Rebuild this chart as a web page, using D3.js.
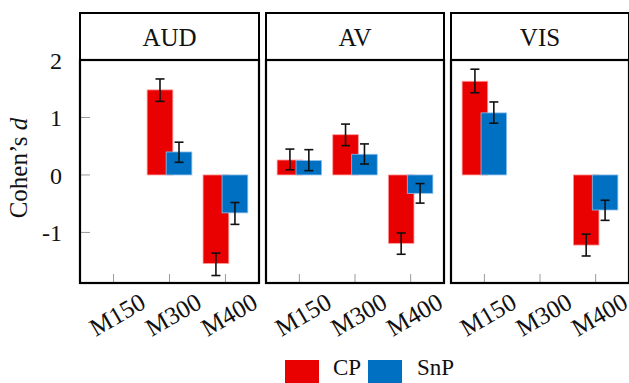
<!DOCTYPE html>
<html>
<head>
<meta charset="utf-8">
<script src="https://cdn.jsdelivr.net/npm/d3@7"></script>
<style>
  body { margin: 0; background: #fff; }
  svg { display: block; }
</style>
</head>
<body>
<svg id="chart" width="629" height="383"></svg>
<script>
// Effect sizes (Cohen's d) per modality panel and time window, with CI bounds
const facets = ["AUD", "AV", "VIS"];
const windows = ["M150", "M300", "M400"];
const seriesNames = ["CP", "SnP"];
const seriesColors = ["#e90000", "#0070c2"];
const yTicks = [-1, 0, 1, 2];

const cpMean  = [[null, 1.48, -1.54], [0.26, 0.70, -1.19], [1.63, null, -1.22]];
const cpLow   = [[null, 1.28, -1.75], [0.09, 0.51, -1.38], [1.43, null, -1.41]];
const cpHigh  = [[null, 1.67, -1.36], [0.45, 0.885, -1.01], [1.84, null, -1.03]];
const snpMean = [[null, 0.40, -0.66], [0.25, 0.36, -0.32], [1.08, null, -0.61]];
const snpLow  = [[null, 0.22, -0.86], [0.075, 0.19, -0.49], [0.90, null, -0.79]];
const snpHigh = [[null, 0.57, -0.48], [0.44, 0.54, -0.15], [1.27, null, -0.44]];

const svg = d3.select("#chart");
const FONT = "Times New Roman, serif";

const panelX = [[80, 259], [266, 444], [451, 629]];
const stripTop = 13, plotTop = 60, plotBottom = 283;

const y = d3.scaleLinear().domain([-1.88, 2.0]).range([plotBottom, plotTop]);

const means = [cpMean, snpMean], lows = [cpLow, snpLow], highs = [cpHigh, snpHigh];
const dodge = 0.17, barW = 0.46, capW = 9;

facets.forEach((facet, fi) => {
  const [x0, x1] = panelX[fi];
  const x = d3.scalePoint().domain(windows).range([x0, x1]).padding(0.6);
  const step = x.step();
  const g = svg.append("g");

  // facet strip
  g.append("rect").attr("x", x0).attr("y", stripTop).attr("width", x1 - x0).attr("height", plotTop - stripTop)
    .attr("fill", "#fff").attr("stroke", "#000").attr("stroke-width", 2);
  g.append("text").attr("x", (x0 + x1) / 2).attr("y", 45.5).attr("text-anchor", "middle")
    .attr("font-family", FONT).attr("font-size", 25).attr("fill", "#111").text(facet);

  // tick marks inside the panel
  g.selectAll(".xt").data(windows).join("line")
    .attr("x1", d => x(d)).attr("x2", d => x(d)).attr("y1", plotBottom).attr("y2", plotBottom - 9)
    .attr("stroke", "#9a9a9a").attr("stroke-width", 1);
  if (fi === 0) {
    g.selectAll(".yt").data(yTicks).join("line")
      .attr("x1", x0).attr("x2", x0 + 10).attr("y1", d => y(d)).attr("y2", d => y(d))
      .attr("stroke", "#9a9a9a").attr("stroke-width", 1);
    g.selectAll(".yl").data(yTicks).join("text")
      .attr("x", 62).attr("y", d => y(d) + 9).attr("text-anchor", "end")
      .attr("font-family", FONT).attr("font-size", 24).attr("fill", "#111")
      .text(d => d);
  }

  // bars: CP first, SnP drawn over it
  seriesNames.forEach((s, si) => {
    const off = (si === 0 ? -dodge : dodge) * step;
    const rows = windows.map((w, wi) => ({ w, v: means[si][fi][wi], lo: lows[si][fi][wi], hi: highs[si][fi][wi] }))
      .filter(d => d.v !== null);
    g.selectAll(".bar" + si).data(rows).join("rect")
      .attr("x", d => x(d.w) + off - barW * step / 2)
      .attr("width", barW * step)
      .attr("y", d => y(Math.max(0, d.v)))
      .attr("height", d => Math.abs(y(d.v) - y(0)))
      .attr("fill", seriesColors[si])
      .attr("stroke", si === 0 ? "#ff9a9a" : "#8fc0ea").attr("stroke-width", 0.8);
  });

  // error bars
  seriesNames.forEach((s, si) => {
    const off = (si === 0 ? -dodge : dodge) * step;
    const rows = windows.map((w, wi) => ({ w, v: means[si][fi][wi], lo: lows[si][fi][wi], hi: highs[si][fi][wi] }))
      .filter(d => d.v !== null);
    const eg = g.selectAll(".err" + si).data(rows).join("g").attr("stroke", "#111").attr("stroke-width", 1.6);
    eg.append("line").attr("x1", d => x(d.w) + off).attr("x2", d => x(d.w) + off)
      .attr("y1", d => y(d.lo)).attr("y2", d => y(d.hi));
    eg.append("line").attr("x1", d => x(d.w) + off - capW / 2).attr("x2", d => x(d.w) + off + capW / 2)
      .attr("y1", d => y(d.lo)).attr("y2", d => y(d.lo));
    eg.append("line").attr("x1", d => x(d.w) + off - capW / 2).attr("x2", d => x(d.w) + off + capW / 2)
      .attr("y1", d => y(d.hi)).attr("y2", d => y(d.hi));
  });

  // panel border
  g.append("rect").attr("x", x0).attr("y", plotTop).attr("width", x1 - x0).attr("height", plotBottom - plotTop)
    .attr("fill", "none").attr("stroke", "#000").attr("stroke-width", 2.2);

  // rotated window labels
  g.selectAll(".xl").data(windows).join("text")
    .attr("text-anchor", "middle").attr("font-family", FONT).attr("font-size", 25).attr("fill", "#111")
    .attr("transform", d => `translate(${x(d) + 8},${322}) rotate(-30)`)
    .text(d => d);
});

// y-axis title
svg.append("text").attr("transform", "translate(27,168) rotate(-90)")
  .attr("text-anchor", "middle").attr("font-family", FONT).attr("font-size", 25).attr("fill", "#111")
  .html("Cohen’s <tspan font-style='italic'>d</tspan>");

// legend
const legX = [285, 368];
const legTextX = [333, 417];
seriesNames.forEach((s, i) => {
  svg.append("rect").attr("x", legX[i]).attr("y", 360).attr("width", 34).attr("height", 23).attr("fill", seriesColors[i]);
  svg.append("text").attr("x", legTextX[i]).attr("y", 375).attr("font-family", FONT).attr("font-size", 23)
    .attr("fill", "#111").text(s);
});
</script>
</body>
</html>
